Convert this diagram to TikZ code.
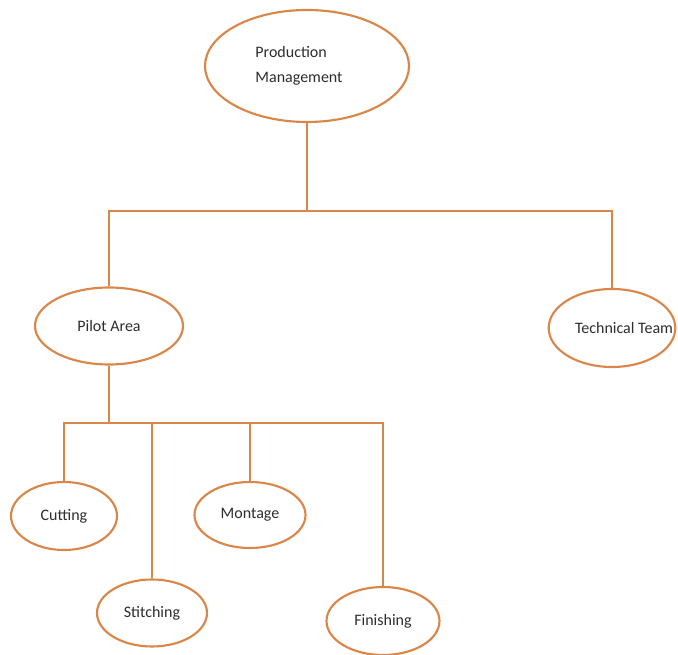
\documentclass[tikz,border=0pt]{standalone}
\usepackage{fontspec}
\setmainfont{Carlito}
\usetikzlibrary{shapes.geometric}
\definecolor{lineorange}{RGB}{219,134,73}
\definecolor{textgray}{RGB}{45,45,45}
\tikzset{
  unit/.style={ellipse, draw=lineorange, line width=1.6pt, fill=white, inner sep=0pt,
    text=textgray, font=\fontsize{12}{15}\selectfont},
  link/.style={draw=lineorange, line width=1.6pt}
}
\begin{document}
\begin{tikzpicture}[x=0.75pt, y=-0.75pt]
    \useasboundingbox (0,0) rectangle (678,655);
    % Top level
    \node[unit, minimum width=153pt, minimum height=84pt, align=left,
          font=\fontsize{12}{19}\selectfont] (prod) at (307,66)
        {\hspace*{-12pt}Production\\\hspace*{-12pt}Management};
    \node[unit, minimum width=111pt, minimum height=57.75pt] (pilot) at (109,326) {Pilot Area};
    \node[unit, minimum width=95pt, minimum height=58.5pt] (tech) at (612,328)
        {\makebox[0pt]{\hspace*{18pt}Technical Team}};

    % Pilot area units
    \node[unit, minimum width=79.5pt, minimum height=51pt] (cut) at (64,516) {Cutting};
    \node[unit, minimum width=82.5pt, minimum height=50.25pt] (stitch) at (152,613) {Stitching};
    \node[unit, minimum width=83.25pt, minimum height=49.5pt] (mont) at (250,515) {Montage};
    \node[unit, minimum width=84.75pt, minimum height=51pt] (finish) at (383,621) {Finishing};

    % Connectors
    \coordinate (topbar) at (307,211);
    \coordinate (pilotbar) at (109,423);
    \draw[link] (prod.south) -- (topbar);
    \draw[link] (pilot.north) |- (topbar) -| (tech.north);
    \draw[link] (pilot.south) -- (pilotbar);
    \draw[link] (cut.north) |- (pilotbar) -| (finish.north);
    \draw[link] (stitch.north) -- (stitch.north |- pilotbar);
    \draw[link] (mont.north) -- (mont.north |- pilotbar);
\end{tikzpicture}
\end{document}
